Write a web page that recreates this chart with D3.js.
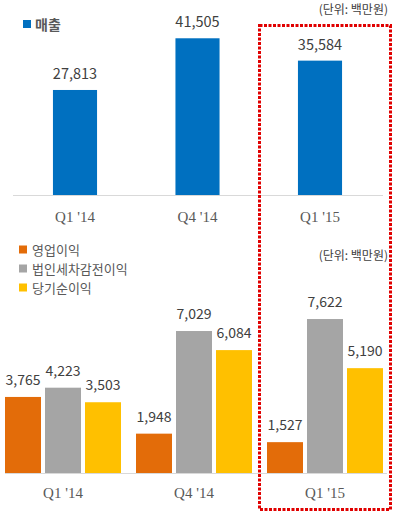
<!DOCTYPE html>
<html>
<head>
<meta charset="utf-8">
<script src="https://cdn.jsdelivr.net/npm/d3@7"></script>
<style>
  body { margin: 0; background: #fff; }
  svg { display: block; }
  text { font-family: "Noto Sans CJK KR", "Noto Sans", sans-serif; fill: #404040; }
  .tick { font-family: "Liberation Serif", "DejaVu Serif", serif; fill: #595959; }
</style>
</head>
<body>
<div id="chart"></div>
<script>
"use strict";

// quarters shared by both panels
const quarters = ["Q1 '14", "Q4 '14", "Q1 '15"];

// top panel: 매출
const salesName = "매출";
const salesValues = [27813, 41505, 35584];

// bottom panel: profits
const profitSeries = ["영업이익", "법인세차감전이익", "당기순이익"];
const operatingProfit = [3765, 1948, 1527];
const pretaxProfit = [4223, 7029, 7622];
const netProfit = [3503, 6084, 5190];

const unitLabel = "(단위: 백만원)";

const salesColor = "#0070c0";
const profitColor = d3.scaleOrdinal().domain(profitSeries).range(["#e36c09", "#a5a5a5", "#ffc000"]);

const fmt = d3.format(",");

const svg = d3.select("#chart").append("svg").attr("width", 398).attr("height", 517);

///////////////////////////
// top panel
///////////////////////////
const xTop = d3.scaleBand().domain(quarters).range([13.75, 381.25]).paddingInner(0.64).paddingOuter(0.32);
const yTop = d3.scaleLinear().domain([0, 50000]).range([195, 6.2]);

svg.append("line")
  .attr("x1", 13).attr("x2", 383)
  .attr("y1", yTop(0) + 0.5).attr("y2", yTop(0) + 0.5)
  .attr("stroke", "#d9d9d9");

svg.selectAll(".sales")
  .data(salesValues)
  .enter()
  .append("rect")
  .attr("class", "sales")
  .attr("x", (d, i) => xTop(quarters[i]))
  .attr("y", (d) => yTop(d))
  .attr("width", xTop.bandwidth())
  .attr("height", (d) => yTop(0) - yTop(d))
  .attr("fill", salesColor);

svg.selectAll(".salesLabel")
  .data(salesValues)
  .enter()
  .append("text")
  .attr("x", (d, i) => xTop(quarters[i]) + xTop.bandwidth() / 2)
  .attr("y", (d) => yTop(d) - 11)
  .attr("text-anchor", "middle")
  .attr("font-size", "14.5px")
  .text((d) => fmt(d));

svg.selectAll(".topTick")
  .data(quarters)
  .enter()
  .append("text")
  .attr("class", "tick")
  .attr("x", (d) => xTop(d) + xTop.bandwidth() / 2)
  .attr("y", 222)
  .attr("text-anchor", "middle")
  .attr("font-size", "15px")
  .text((d) => d);

// legend
svg.append("rect").attr("x", 23).attr("y", 20).attr("width", 8).attr("height", 8).attr("fill", salesColor);
svg.append("text").attr("x", 35).attr("y", 30).attr("font-size", "14px").attr("font-weight", "bold")
  .style("fill", "#595959").text(salesName);

svg.append("text").attr("x", 388).attr("y", 14).attr("text-anchor", "end")
  .attr("font-size", "12px").text(unitLabel);

///////////////////////////
// bottom panel
///////////////////////////
const profitData = quarters.map((q, i) => ({
  quarter: q,
  values: [operatingProfit[i], pretaxProfit[i], netProfit[i]]
}));

const x0 = d3.scaleBand().domain(quarters).range([-2.5, 390.5]);
const x1 = d3.scaleBand().domain(profitSeries).range([7.5, 123.5]).paddingInner(0.1);
const yBot = d3.scaleLinear().domain([0, 8000]).range([473, 311.4]);

svg.append("line")
  .attr("x1", 5).attr("x2", 387)
  .attr("y1", yBot(0) + 0.5).attr("y2", yBot(0) + 0.5)
  .attr("stroke", "#d9d9d9");

const groups = svg.selectAll(".group")
  .data(profitData)
  .enter()
  .append("g")
  .attr("class", "group")
  .attr("transform", (d) => `translate(${x0(d.quarter)},0)`);

groups.selectAll("rect")
  .data((d) => d.values.map((v, j) => ({ key: profitSeries[j], value: v })))
  .enter()
  .append("rect")
  .attr("x", (d) => x1(d.key))
  .attr("y", (d) => yBot(d.value))
  .attr("width", x1.bandwidth())
  .attr("height", (d) => yBot(0) - yBot(d.value))
  .attr("fill", (d) => profitColor(d.key));

groups.selectAll("text")
  .data((d) => d.values.map((v, j) => ({ key: profitSeries[j], value: v })))
  .enter()
  .append("text")
  .attr("x", (d) => x1(d.key) + x1.bandwidth() / 2)
  .attr("y", (d) => yBot(d.value) - 12)
  .attr("text-anchor", "middle")
  .attr("font-size", "14px")
  .text((d) => fmt(d.value));

svg.selectAll(".botTick")
  .data(quarters)
  .enter()
  .append("text")
  .attr("class", "tick")
  .attr("x", (d) => x0(d) + x0.bandwidth() / 2)
  .attr("y", 498)
  .attr("text-anchor", "middle")
  .attr("font-size", "15px")
  .text((d) => d);

// legend
const leg = svg.selectAll(".leg")
  .data(profitSeries)
  .enter()
  .append("g")
  .attr("transform", (d, i) => `translate(19, ${245.5 + i * 19})`);
leg.append("rect").attr("width", 8).attr("height", 8).attr("fill", (d) => profitColor(d));
leg.append("text").attr("x", 13).attr("y", 9).attr("font-size", "13px")
  .style("fill", "#595959").text((d) => d);

svg.append("text").attr("x", 388).attr("y", 260).attr("text-anchor", "end")
  .attr("font-size", "12px").text(unitLabel);

///////////////////////////
// highlight box
///////////////////////////
svg.append("rect")
  .attr("x", 259.5).attr("y", 25.5)
  .attr("width", 131).attr("height", 484)
  .attr("fill", "none")
  .attr("stroke", "#e00000")
  .attr("stroke-width", 3)
  .attr("stroke-dasharray", "3,1.5");
</script>
</body>
</html>
